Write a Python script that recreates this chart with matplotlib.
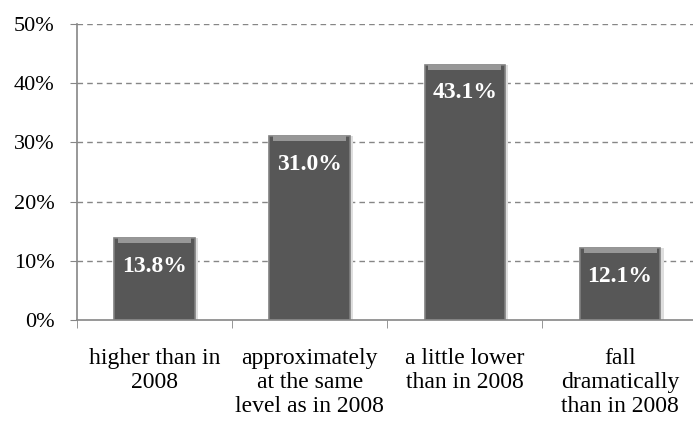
import matplotlib.pyplot as plt
from matplotlib.ticker import FuncFormatter, FixedLocator

categories = ['higher than in\n2008',
              'approximately\nat the same\nlevel as in 2008',
              'a little lower\nthan in 2008',
              'fall\ndramatically\nthan in 2008']
values = [13.8, 31.0, 43.1, 12.1]
yticks = [0, 10, 20, 30, 40, 50]

plt.rcParams['font.family'] = ['Liberation Serif', 'DejaVu Serif']

fig = plt.figure(figsize=(6.93, 4.23), dpi=100)
ax = fig.add_axes([0.111, 0.2435, 0.889, 0.6998])

x = list(range(len(values)))
grey = '#868686'

# grid
for t in yticks[1:]:
    ax.axhline(t, color=grey, linestyle=(0, (4, 3)), linewidth=1.0, zorder=0)

# shadow, bar, top highlight
ax.bar([i + 0.02 for i in x], values, width=0.52, color='#dedede', zorder=1)
bars = ax.bar(x, values, width=0.52, color='#575757', edgecolor='#808080',
              linewidth=1.2, zorder=2)
ax.bar(x, [0.8] * len(values), bottom=[v - 0.8 for v in values], width=0.47,
       color='#979797', zorder=3)

for i, v in enumerate(values):
    ax.annotate(f'{v:.1f}%', (i, v), xytext=(0, -20), textcoords='offset points',
                ha='center', va='center', color='white', fontsize=17,
                fontweight='bold', zorder=4)

ax.set_xlim(-0.5, 3.47)
ax.set_ylim(0, 50)
ax.set_yticks(yticks)
ax.yaxis.set_major_formatter(FuncFormatter(lambda v, p: f'{v:.0f}%'))
ax.tick_params(axis='y', length=5, color=grey, labelsize=16, pad=11)

ax.set_xticks(x)
ax.set_xticklabels(categories, fontsize=17, linespacing=1.2, va='top')
ax.tick_params(axis='x', which='major', length=0, pad=20)
ax.xaxis.set_minor_locator(FixedLocator([-0.5, 0.5, 1.5, 2.5]))
ax.tick_params(axis='x', which='minor', length=6, color=grey)

for s in ['top', 'right']:
    ax.spines[s].set_visible(False)
for s in ['left', 'bottom']:
    ax.spines[s].set_color(grey)
    ax.spines[s].set_linewidth(1.2)

fig.savefig('out.png', dpi=100)
